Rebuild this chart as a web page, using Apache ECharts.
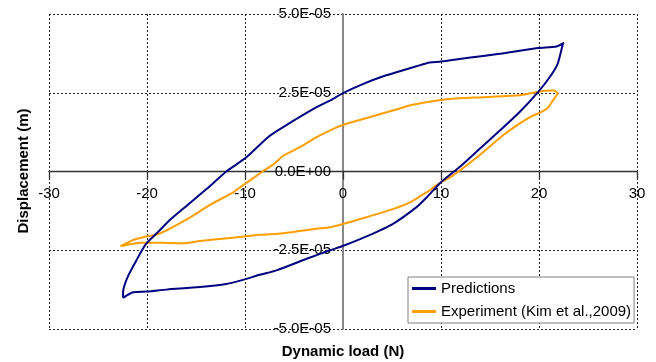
<!DOCTYPE html>
<html>
<head>
<meta charset="utf-8">
<script src="https://cdn.jsdelivr.net/npm/echarts@6/dist/echarts.min.js"></script>
<style>
html,body{margin:0;padding:0;background:#fff;}
#chart{width:656px;height:362px;}
</style>
</head>
<body>
<div id="chart"></div>
<script>
// Dynamic load (N) and displacement (units of 1E-05 m)
const predictionsLoad = [-22.45,-21.4,-20,-18,-14.6,-11.9,-10.2,-8.5,-6.8,-3.7,-1.4,0.1,2.4,5.1,7.5,8.6,10.0,11.9,13.95,16.0,18.0,19.9,21.1,21.9,22.45,22.55,21.8,19.9,16.0,12.6,10.0,8.85,7.5,5.8,3.9,2.2,0.0,-1.4,-2.7,-6.1,-7.65,-9.86,-11.9,-13.9,-16.0,-17.7,-18.9,-20.1,-21.1,-21.9,-22.4,-22.45];
const predictionsDisp = [-4.01,-3.83,-3.81,-3.75,-3.67,-3.57,-3.44,-3.28,-3.14,-2.77,-2.51,-2.35,-2.06,-1.66,-1.13,-0.8,-0.34,0.14,0.72,1.30,1.88,2.52,3.0,3.42,4.06,4.08,3.97,3.92,3.74,3.6,3.49,3.46,3.34,3.18,3.0,2.8,2.49,2.24,2.04,1.41,1.09,0.45,0.0,-0.55,-1.1,-1.55,-1.93,-2.3,-2.83,-3.3,-3.73,-4.01];
const experimentLoad = [-22.7,-22.1,-20.7,-19.0,-18.0,-16.3,-14.6,-11.2,-8.5,-6.1,-2.7,-1.36,0.1,2.2,5.3,6.8,7.8,8.85,9.5,11.2,12.6,14.3,16.3,18.0,19.05,20.4,20.9,21.4,21.9,21.5,21.1,20.25,18.2,14.3,12.2,10.0,7.1,5.8,4.0,0.1,-1.36,-2.7,-4.4,-6.1,-7.0,-8.2,-10.5,-11.2,-13.4,-16.0,-18.0,-19.0,-20.3,-21.4,-22.7];
const experimentDisp = [-2.37,-2.33,-2.26,-2.26,-2.27,-2.28,-2.21,-2.1,-2.01,-1.96,-1.82,-1.77,-1.66,-1.47,-1.17,-0.99,-0.8,-0.6,-0.44,-0.13,0.19,0.61,1.14,1.52,1.72,1.92,2.02,2.25,2.49,2.57,2.57,2.55,2.43,2.36,2.33,2.27,2.12,2.0,1.84,1.49,1.3,1.09,0.77,0.5,0.25,0.0,-0.5,-0.66,-1.03,-1.53,-1.87,-2.0,-2.08,-2.17,-2.37];
const xTicks = {min: -30, max: 30, step: 10};
const yTicks = {min: -5, max: 5, step: 2.5};
const seriesNames = ['Predictions', 'Experiment (Kim et al.,2009)'];
const xTitle = 'Dynamic load (N)';
const yTitle = 'Displacement (m)';

const zip = (a, b) => a.map((v, i) => [v, b[i]]);
const font = "'Liberation Sans', Arial, sans-serif";

const G = {left: 49, right: 19, top: 14, bottom: 33};
const W = 656, H = 362;
const plotW = W - G.left - G.right, plotH = H - G.top - G.bottom;
// place axes through the origin
const xZeroFrac = (0 - xTicks.min) / (xTicks.max - xTicks.min);
const yZeroFrac = (0 - yTicks.min) / (yTicks.max - yTicks.min);

const chart = echarts.init(document.getElementById('chart'), null, {renderer: 'canvas'});
chart.setOption({
  animation: false,
  backgroundColor: '#fff',
  grid: Object.assign({containLabel: false}, G),
  xAxis: {
    type: 'value', min: xTicks.min, max: xTicks.max, interval: xTicks.step,
    position: 'bottom', offset: -plotH * yZeroFrac,
    axisLine: {show: true, onZero: false, lineStyle: {color: '#333', width: 1.3}},
    axisTick: {show: true, length: 8, lineStyle: {color: '#333', width: 1.3}},
    axisLabel: {margin: 15, fontSize: 15, color: '#000', fontFamily: font},
    splitLine: {show: true, showMinLine: true, showMaxLine: true, lineStyle: {color: '#222', width: 1, type: [2, 2]}}
  },
  yAxis: {
    type: 'value', min: yTicks.min, max: yTicks.max, interval: yTicks.step,
    position: 'left', offset: -plotW * xZeroFrac,
    axisLine: {show: true, onZero: false, lineStyle: {color: '#888', width: 2}},
    axisTick: {show: false},
    axisLabel: {margin: 12, fontSize: 15, color: '#000', fontFamily: font,
      formatter: v => v === 0 ? '0.0E+00' : (v < 0 ? '-' : '') + Math.abs(v).toFixed(1) + 'E-05'},
    splitLine: {show: true, showMinLine: true, showMaxLine: true, lineStyle: {color: '#222', width: 1, type: [2, 2]}}
  },
  legend: {
    orient: 'vertical', left: 408, top: 277,
    padding: [4, 3, 4, 4], itemGap: 8,
    itemWidth: 24, itemHeight: 3, icon: 'rect',
    backgroundColor: '#fff', borderColor: '#808080', borderWidth: 1,
    textStyle: {fontSize: 15, color: '#000', fontFamily: font},
    data: seriesNames
  },
  series: [
    {name: seriesNames[0], type: 'line', data: zip(predictionsLoad, predictionsDisp), showSymbol: false, smooth: 0.25,
     color: '#000080', lineStyle: {color: '#000080', width: 2}, z: 3},
    {name: seriesNames[1], type: 'line', data: zip(experimentLoad, experimentDisp), showSymbol: false, smooth: 0.25,
     color: '#FF9E00', lineStyle: {color: '#FF9E00', width: 2}, z: 2}
  ],
  graphic: [
    {type: 'text', x: 343, y: 352, style: {text: xTitle, font: "bold 15px " + font, fill: '#000',
      align: 'center', verticalAlign: 'middle', textAlign: 'center', textVerticalAlign: 'middle'}},
    {type: 'text', x: 24, y: 171, rotation: Math.PI / 2, style: {text: yTitle, font: "bold 15px " + font, fill: '#000',
      align: 'center', verticalAlign: 'middle', textAlign: 'center', textVerticalAlign: 'middle'}}
  ]
});
</script>
</body>
</html>
